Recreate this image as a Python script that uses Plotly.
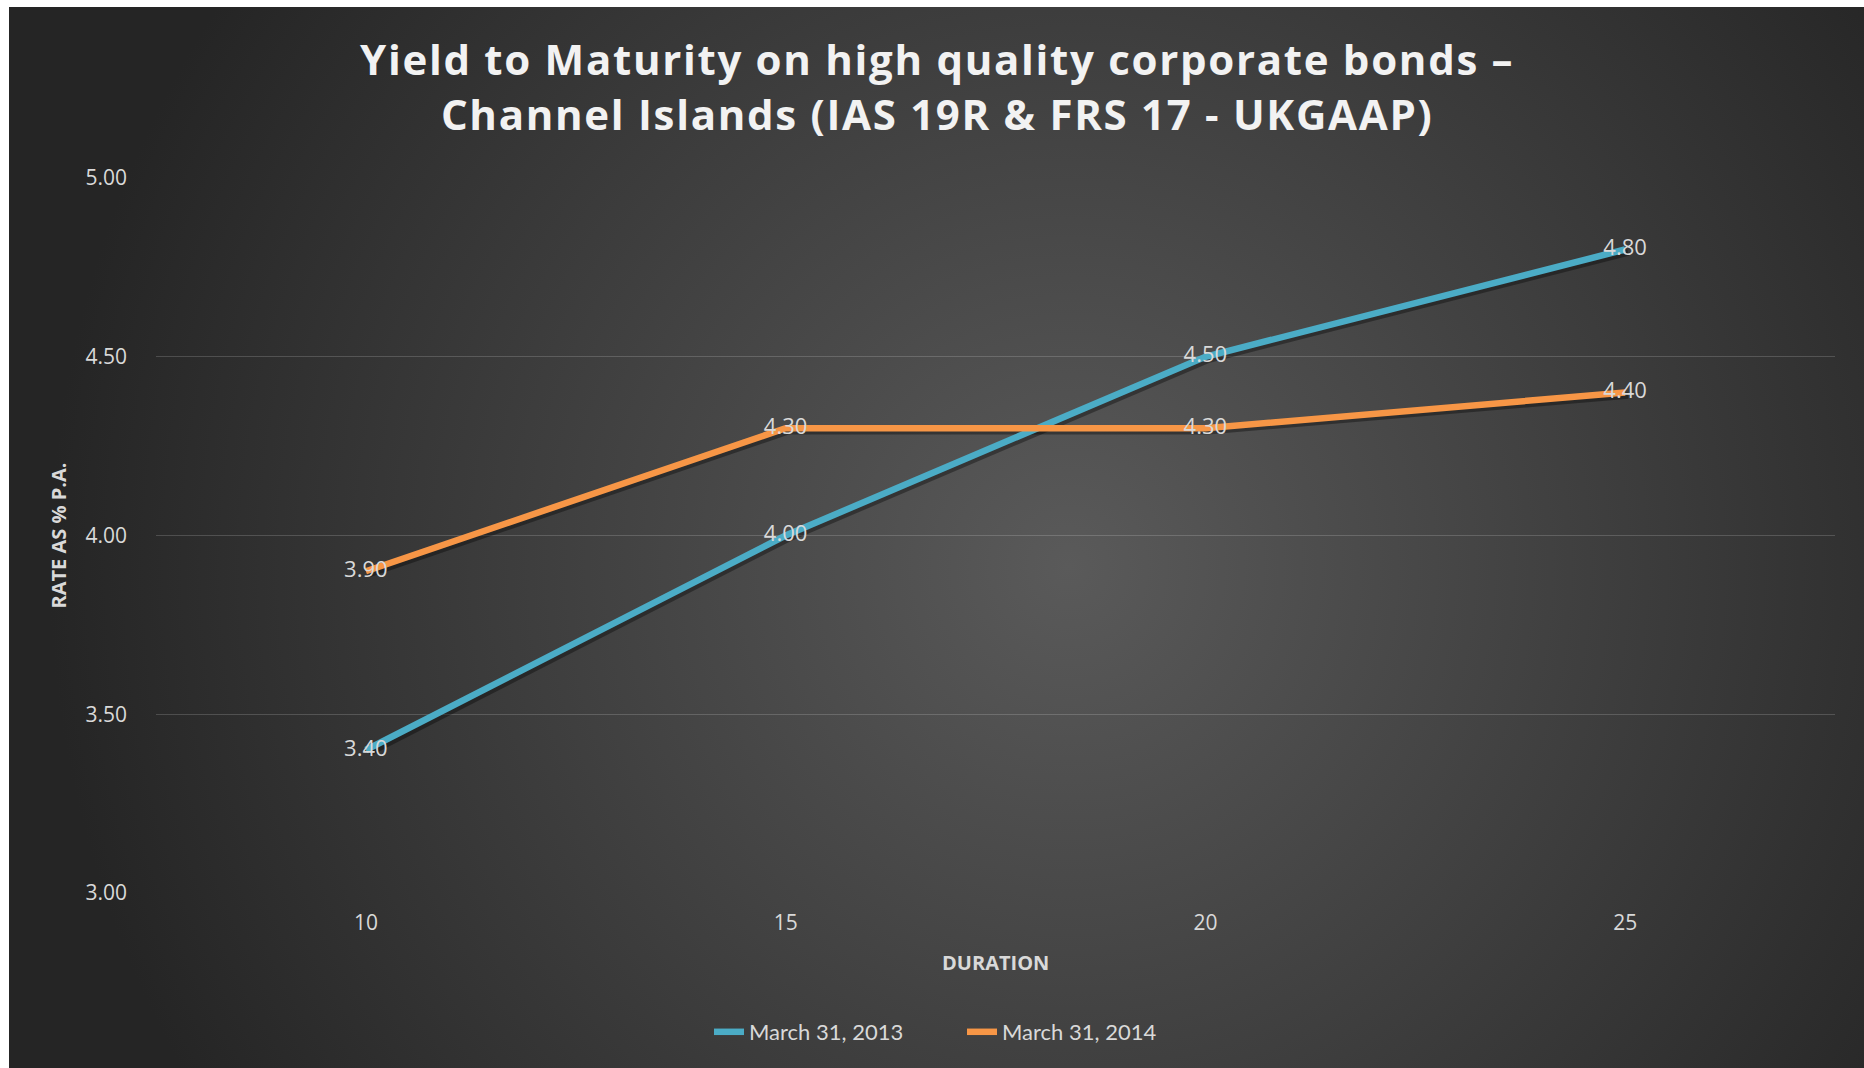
import base64
import plotly.graph_objects as go

# ---- data ----
durations = [10, 15, 20, 25]
series_names = ["March 31, 2013", "March 31, 2014"]
values_2013 = [3.40, 4.00, 4.50, 4.80]
values_2014 = [3.90, 4.30, 4.30, 4.40]
y_ticks = [3.00, 3.50, 4.00, 4.50, 5.00]
title_line1 = "Yield to Maturity on high quality corporate bonds –"
title_line2 = "Channel Islands (IAS 19R & FRS 17 - UKGAAP)"
x_title = "DURATION"
y_title = "RATE AS % P.A."

colors = ["#4BACC6", "#F79646"]
W, H = 1864, 1068
ml, mr, mt, mb = 156, 29, 178, 175
pw, ph = W - ml - mr, H - mt - mb
xr = [7.5, 27.5]
yr = [3.0, 5.0]
sh = 3  # shadow offset in px
dx = sh * (xr[1] - xr[0]) / pw
dy = sh * (yr[1] - yr[0]) / ph

# background radial gradient (as svg image)
bw, bh = W - 9, H - 7
svg = (f'<svg xmlns="http://www.w3.org/2000/svg" width="{bw}" height="{bh}" viewBox="0 0 {bw} {bh}" preserveAspectRatio="none">'
       f'<defs><radialGradient id="g" gradientUnits="userSpaceOnUse" cx="1060" cy="560" r="1020">'
       f'<stop offset="0" stop-color="#5a5a5a"/><stop offset="1" stop-color="#252525"/></radialGradient></defs>'
       f'<rect width="{bw}" height="{bh}" fill="url(#g)"/></svg>')
src = "data:image/svg+xml;base64," + base64.b64encode(svg.encode()).decode()

fig = go.Figure()
all_vals = [values_2013, values_2014]
# shadows (base subplot, shifted range)
for vals in all_vals:
    fig.add_trace(go.Scatter(x=durations, y=vals, mode="lines", xaxis="x", yaxis="y",
                             line=dict(color="rgba(0,0,0,0.35)", width=6.5), showlegend=False, hoverinfo="skip"))
# main lines (overlay subplot with visible axes)
for name, vals, c in zip(series_names, all_vals, colors):
    fig.add_trace(go.Scatter(x=durations, y=vals, mode="lines", name=name, xaxis="x2", yaxis="y2",
                             line=dict(color=c, width=6.5)))
# data labels
for vals in all_vals:
    fig.add_trace(go.Scatter(x=durations, y=vals, mode="text", xaxis="x2", yaxis="y2",
                             text=[f"{v:.2f}" for v in vals], textposition="middle center",
                             textfont=dict(family="Open Sans", size=22, color="#d9d9d9"),
                             showlegend=False, hoverinfo="skip"))

tickfont = dict(family="Open Sans", size=21, color="#d9d9d9")
grid = "rgba(255,255,255,0.17)"
title_text = (f'<span style="letter-spacing:1.7px">{title_line1}</span><br>'
              f'<span style="letter-spacing:1.7px">{title_line2}</span>')
fig.update_layout(
    width=W, height=H, autosize=False,
    margin=dict(l=ml, r=mr, t=mt, b=mb, pad=0),
    paper_bgcolor="white", plot_bgcolor="rgba(0,0,0,0)",
    font=dict(family="Open Sans", color="#d9d9d9"),
    images=[dict(source=src, xref="paper", yref="paper",
                 x=(9 - ml) / pw, y=(H - mb - 7) / ph, sizex=bw / pw, sizey=bh / ph,
                 xanchor="left", yanchor="top", sizing="stretch", layer="below")],
    xaxis=dict(range=[xr[0] - dx, xr[1] - dx], visible=False, fixedrange=True),
    yaxis=dict(range=[yr[0] + dy, yr[1] + dy], visible=False, fixedrange=True),
    xaxis2=dict(range=xr, overlaying="x", anchor="y2", side="bottom",
                tickvals=durations, ticktext=[str(d) for d in durations],
                showgrid=False, zeroline=False, showline=False, ticks="",
                tickfont=tickfont, ticklabelstandoff=15, fixedrange=True),
    yaxis2=dict(range=yr, overlaying="y", anchor="x2", side="left",
                tickvals=y_ticks, ticktext=[f"{v:.2f}" for v in y_ticks],
                showgrid=True, gridcolor=grid, gridwidth=1, zeroline=False, showline=False, ticks="",
                tickfont=tickfont, ticklabelstandoff=28, fixedrange=True),
    showlegend=True,
    legend=dict(orientation="h", x=(962 - ml) / pw, xanchor="center", y=(H - mb - 1032) / ph, yanchor="middle",
                font=dict(family="Lato", size=22, color="#d9d9d9"), bgcolor="rgba(0,0,0,0)",
                itemclick=False, itemdoubleclick=False, entrywidth=208),
    annotations=[
        dict(text=title_text, xref="paper", yref="paper", x=(937 - ml) / pw, y=(H - mb - 86) / ph,
             xanchor="center", yanchor="middle", showarrow=False, align="center",
             font=dict(family="Open Sans", size=42, color="#f2f2f2", weight="bold")),
        dict(text=x_title, xref="paper", yref="paper", x=0.5, y=(H - mb - 962) / ph,
             xanchor="center", yanchor="middle", showarrow=False,
             font=dict(family="Open Sans", size=20, color="#d9d9d9", weight="bold")),
        dict(text=y_title, xref="paper", yref="paper", x=(58 - ml) / pw, y=0.5, textangle=-90,
             xanchor="center", yanchor="middle", showarrow=False,
             font=dict(family="Open Sans", size=20, color="#d9d9d9", weight="bold")),
    ],
    hovermode=False,
)
fig.write_html("out.html", config={"displayModeBar": False})
